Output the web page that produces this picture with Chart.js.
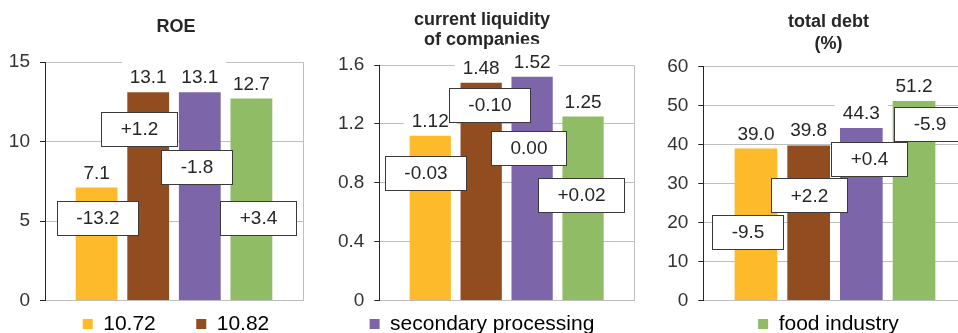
<!DOCTYPE html>
<html>
<head>
<meta charset="utf-8">
<script src="https://cdn.jsdelivr.net/npm/chart.js@4.4.1/dist/chart.umd.min.js"></script>
<style>
  html, body { margin:0; padding:0; background:#ffffff; width:958px; height:333px; overflow:hidden; position:relative; }
  canvas { position:absolute; top:0; }
</style>
</head>
<body>
<canvas id="c1" width="352" height="345" style="left:0px"></canvas>
<canvas id="c2" width="316" height="345" style="left:320px"></canvas>
<canvas id="c3" width="377" height="345" style="left:640px"></canvas>
<script>
// ---------- data ----------
const seriesNames  = ['10.72', '10.82', 'secondary processing', 'food industry'];
const seriesColors = ['#FDBA2A', '#914C1F', '#7C66A9', '#8FBC64'];

const roeValues      = [7.1, 13.1, 13.1, 12.7];
const roeChanges     = ['-13.2', '+1.2', '-1.8', '+3.4'];
const roeTicks       = [0, 5, 10, 15];
const roeTickLabels  = ['0', '5', '10', '15'];

const liquidityValues     = [1.12, 1.48, 1.52, 1.25];
const liquidityChanges    = ['-0.03', '-0.10', '0.00', '+0.02'];
const liquidityTicks      = [0, 0.4, 0.8, 1.2, 1.6];
const liquidityTickLabels = ['0', '0.4', '0.8', '1.2', '1.6'];

const debtValues     = [39.0, 39.8, 44.3, 51.2];
const debtChanges    = ['-9.5', '+2.2', '+0.4', '-5.9'];
const debtTicks      = [0, 10, 20, 30, 40, 50, 60];
const debtTickLabels = ['0', '10', '20', '30', '40', '50', '60'];

const panelData = [
  { title: ['ROE'], values: roeValues, changes: roeChanges, ticks: roeTicks, tickLabels: roeTickLabels, decimals: 1 },
  { title: ['current liquidity', 'of companies'], values: liquidityValues, changes: liquidityChanges, ticks: liquidityTicks, tickLabels: liquidityTickLabels, decimals: 2 },
  { title: ['total debt', '(%)'], values: debtValues, changes: debtChanges, ticks: debtTicks, tickLabels: debtTickLabels, decimals: 1 }
];

// ---------- layout (not data) ----------
// boxAt: vertical anchor of the change box, in axis units; boxDX: horizontal nudge in px from bar centre
const panelLayout = [
  { canvas: 'c1', padL: 0,  axisWidth: 45,   padR: 0, rightWidth: 49,   titleLH: 21.6, titlePad: { top: 15.9, bottom: 24.5 },
    legendItems: [0, null, 1], boxAt: [5.2, 10.8, 8.4, 5.2], boxDX: [1, -9.5, -3, 7] },
  { canvas: 'c2', padL: 10, axisWidth: 49.3, padR: 2, rightWidth: 0,    titleLH: 20,   titlePad: { top: 10.5, bottom: 14.5 },
    legendItems: [2], boxAt: [0.865, 1.331, 1.036, 0.716], boxDX: [-5, 8, -4, -2] },
  { canvas: 'c3', padL: 0,  axisWidth: 63.3, padR: 0, rightWidth: 50.3, titleLH: 21.5, titlePad: { top: 11.75, bottom: 12 },
    legendItems: [3], boxAt: [17.6, 27.0, 36.3, 45.3], boxDX: [-8, 0.5, 8, 15] }
];

const FONT = '"Liberation Sans", Arial, Helvetica, sans-serif';
const GRID = '#BFBFBF';
const DARK = '#262626';

const annotatePlugin = {
  id: 'annotate',
  afterDatasetsDraw(chart, args, o) {
    const ctx = chart.ctx;
    const yScale = chart.scales.y;
    ctx.save();
    ctx.font = '19px ' + FONT;
    ctx.textAlign = 'center';
    // value labels above bars
    chart.data.datasets.forEach((ds, i) => {
      const bar = chart.getDatasetMeta(i).data[0];
      const txt = ds.data[0].toFixed(o.decimals);
      const w = ctx.measureText(txt).width;
      const base = bar.y - 9;
      ctx.fillStyle = '#ffffff';
      ctx.fillRect(bar.x - w / 2 - 8, base - 24, w + 16, 28);
      ctx.fillStyle = DARK;
      ctx.textBaseline = 'alphabetic';
      ctx.fillText(txt, bar.x, base);
    });
    // change boxes
    o.changes.forEach((txt, i) => {
      const bar = chart.getDatasetMeta(i).data[0];
      const cx = bar.x + o.boxDX[i];
      const cy = yScale.getPixelForValue(o.boxAt[i]);
      const w = Math.round(ctx.measureText(txt).width + 38);
      const h = 34;
      const x0 = Math.round(cx - w / 2) + 0.5;
      const y0 = Math.round(cy - h / 2) + 0.5;
      ctx.fillStyle = '#ffffff';
      ctx.fillRect(x0, y0, w, h);
      ctx.strokeStyle = '#3a3a3a';
      ctx.lineWidth = 1;
      ctx.strokeRect(x0, y0, w, h);
      ctx.fillStyle = DARK;
      ctx.textBaseline = 'middle';
      ctx.fillText(txt, x0 + w / 2, cy + 1);
    });
    ctx.restore();
  }
};

panelData.forEach((P, k) => {
  const L = panelLayout[k];
  const datasets = P.values.map((v, i) => ({
    label: seriesNames[i],
    data: [v],
    xAxisID: 'x',
    yAxisID: 'y',
    backgroundColor: seriesColors[i],
    borderWidth: 0,
    categoryPercentage: 0.8,
    barPercentage: 0.81
  }));
  const scales = {
    x: {
      type: 'category',
      offset: true,
      grid: {
        offset: true,
        drawTicks: false,
        color: (c) => (c.index === 0 ? 'rgba(0,0,0,0)' : GRID),
        lineWidth: 1
      },
      border: { display: true, color: GRID, width: 1 },
      ticks: { display: false },
      afterFit: (s) => { s.height = 3; }
    },
    y: {
      type: 'linear',
      position: 'left',
      min: P.ticks[0],
      max: P.ticks[P.ticks.length - 1],
      afterBuildTicks: (s) => { s.ticks = P.ticks.map(v => ({ value: v })); },
      afterFit: (s) => { s.width = L.axisWidth; },
      grid: { color: GRID, lineWidth: 1, drawTicks: true, tickLength: 5, tickColor: DARK, tickWidth: 1 },
      border: { display: true, color: DARK, width: 1 },
      ticks: {
        padding: 10,
        color: '#333333',
        font: { family: FONT, size: 19 },
        callback: (v, idx) => P.tickLabels[idx]
      }
    }
  };
  if (L.rightWidth > 0) {
    scales.yRight = {
      type: 'linear',
      position: 'right',
      display: true,
      grid: { display: false, drawTicks: false },
      border: { display: false },
      ticks: { display: false },
      afterFit: (s) => { s.width = L.rightWidth; }
    };
  }
  new Chart(document.getElementById(L.canvas), {
    type: 'bar',
    data: { labels: [''], datasets },
    plugins: [annotatePlugin],
    options: {
      responsive: false,
      animation: false,
      events: [],
      layout: { padding: { top: 0, left: L.padL, right: L.padR, bottom: 0.5 } },
      scales,
      plugins: {
        tooltip: { enabled: false },
        title: {
          display: true,
          text: P.title,
          color: DARK,
          font: { family: FONT, size: 18, weight: 'bold', lineHeight: L.titleLH + 'px' },
          padding: L.titlePad
        },
        legend: {
          display: true,
          position: 'bottom',
          labels: {
            boxWidth: 10,
            boxHeight: 10,
            padding: 10,
            color: DARK,
            font: { family: FONT, size: 21 },
            generateLabels: () => L.legendItems.map(i => (i === null
              ? { text: '', fillStyle: 'rgba(0,0,0,0)', strokeStyle: 'rgba(0,0,0,0)', lineWidth: 0, hidden: false }
              : { text: seriesNames[i], fillStyle: seriesColors[i], strokeStyle: seriesColors[i], lineWidth: 0, hidden: false, datasetIndex: i }))
          }
        },
        annotate: { decimals: P.decimals, changes: P.changes, boxAt: L.boxAt, boxDX: L.boxDX }
      }
    }
  });
});
</script>
</body>
</html>
